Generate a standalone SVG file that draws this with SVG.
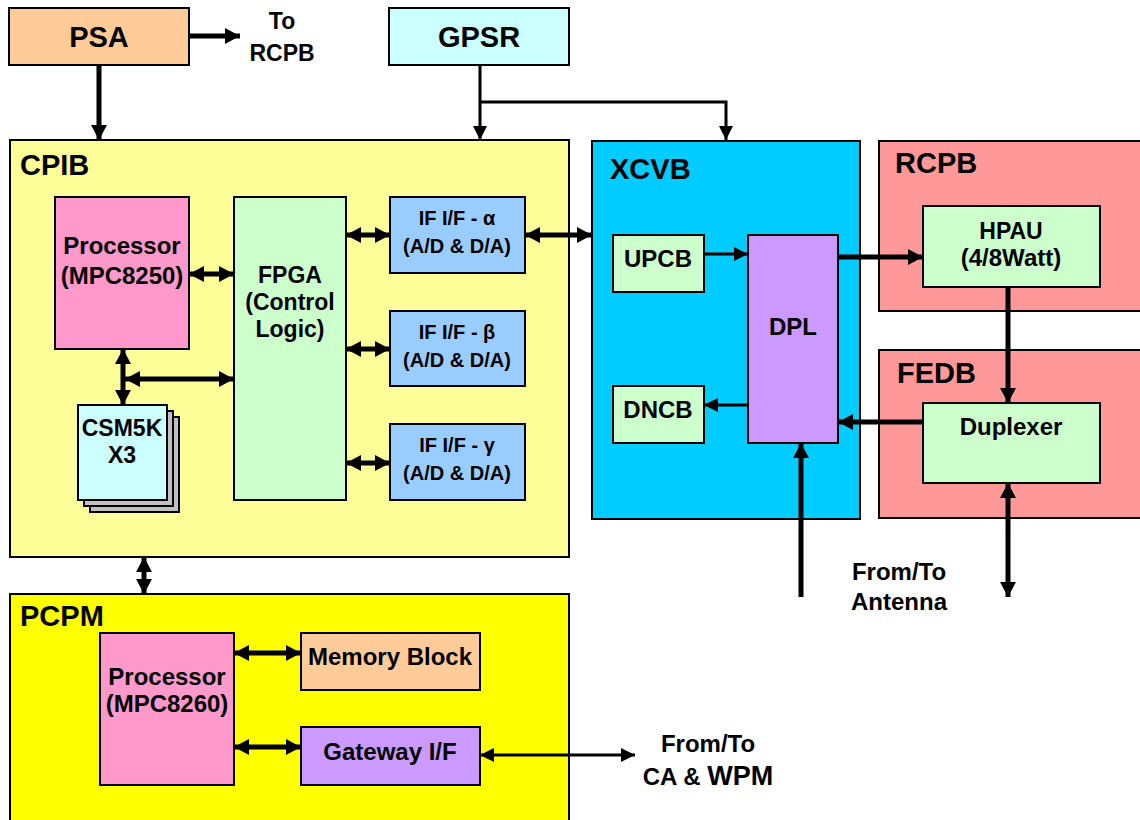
<svg xmlns="http://www.w3.org/2000/svg" width="1140" height="820" viewBox="0 0 1140 820">
<style>
  text { font-family: "Liberation Sans", Arial, sans-serif; font-weight: bold; fill: #000; }
  .t29 { font-size: 29px; }
  .t24 { font-size: 24px; }
  .t23 { font-size: 23px; }
  .t20 { font-size: 20px; }
  .c { text-anchor: middle; }
  .box { stroke: #000; stroke-width: 2; }
  .thick { stroke: #000; stroke-width: 5; fill: none; }
  .thin { stroke: #000; stroke-width: 3; fill: none; }
</style>
<defs>
  <marker id="a" markerUnits="userSpaceOnUse" markerWidth="15" markerHeight="16" refX="15" refY="8" orient="auto-start-reverse">
    <path d="M0,0 L15,8 L0,16 z" fill="#000"/>
  </marker>
  <marker id="t" markerUnits="userSpaceOnUse" markerWidth="14" markerHeight="14" refX="14" refY="7" orient="auto-start-reverse">
    <path d="M0,0 L14,7 L0,14 z" fill="#000"/>
  </marker>
</defs>
<rect width="1140" height="820" fill="#fff"/>

<!-- containers -->
<g id="cpib">
  <rect class="box" x="10" y="140" width="559" height="417" fill="#FFFF99"/>
  <text class="t29" x="20" y="175">CPIB</text>
</g>
<g id="xcvb">
  <rect class="box" x="592" y="141" width="268" height="378" fill="#00CCFF"/>
  <text class="t29" x="610" y="179">XCVB</text>
</g>
<g id="rcpb">
  <rect class="box" x="879" y="141" width="270" height="170" fill="#FF9999"/>
  <text class="t29" x="895" y="173">RCPB</text>
</g>
<g id="fedb">
  <rect class="box" x="879" y="350" width="270" height="168" fill="#FF9999"/>
  <text class="t29" x="897" y="383">FEDB</text>
</g>
<g id="pcpm">
  <rect class="box" x="10" y="594" width="559" height="240" fill="#FFFF00"/>
  <text class="t29" x="20" y="626">PCPM</text>
</g>

<!-- top nodes -->
<g id="psa">
  <rect class="box" x="9" y="8" width="180" height="57" fill="#FFCC99"/>
  <text class="t29 c" x="99" y="47">PSA</text>
</g>
<g id="gpsr">
  <rect class="box" x="389" y="8" width="180" height="57" fill="#CCFFFF"/>
  <text class="t29 c" x="479" y="47">GPSR</text>
</g>
<g id="to-rcpb">
  <text class="t23 c" x="282" y="29">To</text>
  <text class="t23 c" x="282" y="61">RCPB</text>
</g>

<!-- CPIB internals -->
<g id="proc8250">
  <rect class="box" x="55" y="197" width="134" height="152" fill="#FF99CC"/>
  <text class="t24 c" x="122" y="254">Processor</text>
  <text class="t24 c" x="122" y="284">(MPC8250)</text>
</g>
<g id="fpga">
  <rect class="box" x="234" y="197" width="112" height="303" fill="#CCFFCC"/>
  <text class="t23 c" x="290" y="283">FPGA</text>
  <text class="t23 c" x="290" y="310">(Control</text>
  <text class="t23 c" x="290" y="337">Logic)</text>
</g>
<g id="csm5k">
  <rect class="box" x="90" y="417" width="89" height="95" fill="#C0C0C0"/>
  <rect class="box" x="84" y="411" width="89" height="95" fill="#C0C0C0"/>
  <rect class="box" x="78" y="405" width="89" height="95" fill="#CCFFFF"/>
  <text class="t23 c" x="122" y="436">CSM5K</text>
  <text class="t23 c" x="122" y="463">X3</text>
</g>
<g id="if-alpha">
  <rect class="box" x="390" y="197" width="135" height="76" fill="#99CCFF"/>
  <text class="t20 c" x="457" y="225">IF I/F - α</text>
  <text class="t20 c" x="457" y="253">(A/D &amp; D/A)</text>
</g>
<g id="if-beta">
  <rect class="box" x="390" y="311" width="135" height="75" fill="#99CCFF"/>
  <text class="t20 c" x="457" y="339">IF I/F - β</text>
  <text class="t20 c" x="457" y="367">(A/D &amp; D/A)</text>
</g>
<g id="if-gamma">
  <rect class="box" x="390" y="424" width="135" height="76" fill="#99CCFF"/>
  <text class="t20 c" x="457" y="452">IF I/F - γ</text>
  <text class="t20 c" x="457" y="480">(A/D &amp; D/A)</text>
</g>

<!-- XCVB internals -->
<g id="upcb">
  <rect class="box" x="613" y="235" width="91" height="57" fill="#CCFFCC"/>
  <text class="t24 c" x="658" y="267">UPCB</text>
</g>
<g id="dncb">
  <rect class="box" x="613" y="386" width="91" height="57" fill="#CCFFCC"/>
  <text class="t24 c" x="658" y="418">DNCB</text>
</g>
<g id="dpl">
  <rect class="box" x="748" y="235" width="90" height="208" fill="#CC99FF"/>
  <text class="t24 c" x="793" y="335">DPL</text>
</g>

<!-- RCPB / FEDB internals -->
<g id="hpau">
  <rect class="box" x="923" y="206" width="177" height="81" fill="#CCFFCC"/>
  <text class="t23 c" x="1011" y="239">HPAU</text>
  <text class="t24 c" x="1011" y="266">(4/8Watt)</text>
</g>
<g id="duplexer">
  <rect class="box" x="923" y="403" width="177" height="80" fill="#CCFFCC"/>
  <text class="t24 c" x="1011" y="435">Duplexer</text>
</g>
<g id="antenna-label">
  <text class="t24 c" x="899" y="580">From/To</text>
  <text class="t24 c" x="899" y="610">Antenna</text>
</g>

<!-- PCPM internals -->
<g id="proc8260">
  <rect class="box" x="100" y="633" width="134" height="152" fill="#FF99CC"/>
  <text class="t24 c" x="167" y="685">Processor</text>
  <text class="t24 c" x="167" y="712">(MPC8260)</text>
</g>
<g id="memory">
  <rect class="box" x="301" y="633" width="179" height="57" fill="#FFCC99"/>
  <text class="t24 c" x="390" y="665">Memory Block</text>
</g>
<g id="gateway">
  <rect class="box" x="301" y="727" width="179" height="58" fill="#CC99FF"/>
  <text class="t24 c" x="390" y="760">Gateway I/F</text>
</g>
<g id="ca-wpm-label">
  <text class="t24 c" x="708" y="752">From/To</text>
  <text class="t24 c" x="708" y="785">CA &amp; <tspan style="font-size:27px">WPM</tspan></text>
</g>

<!-- connectors -->
<g id="connectors">
  <line class="thick" x1="189" y1="36" x2="240" y2="36" marker-end="url(#a)"/>
  <line class="thick" x1="99" y1="65" x2="99" y2="140" marker-end="url(#a)"/>
  <line class="thin" x1="480" y1="65" x2="480" y2="140" marker-end="url(#t)"/>
  <polyline class="thin" points="480,102 726,102 726,140" marker-end="url(#t)"/>

  <line class="thick" x1="189" y1="274" x2="234" y2="274" marker-start="url(#a)" marker-end="url(#a)"/>
  <line class="thick" x1="123" y1="349" x2="123" y2="405" marker-start="url(#a)" marker-end="url(#a)"/>
  <line class="thick" x1="125" y1="379" x2="234" y2="379" marker-start="url(#a)" marker-end="url(#a)"/>
  <line class="thick" x1="346" y1="235" x2="390" y2="235" marker-start="url(#a)" marker-end="url(#a)"/>
  <line class="thick" x1="346" y1="349" x2="390" y2="349" marker-start="url(#a)" marker-end="url(#a)"/>
  <line class="thick" x1="346" y1="463" x2="390" y2="463" marker-start="url(#a)" marker-end="url(#a)"/>
  <line class="thick" x1="525" y1="235" x2="592" y2="235" marker-start="url(#a)" marker-end="url(#a)"/>

  <line class="thin" x1="704" y1="254" x2="748" y2="254" marker-end="url(#t)"/>
  <line class="thin" x1="748" y1="405" x2="704" y2="405" marker-end="url(#t)"/>
  <line class="thick" x1="838" y1="257" x2="923" y2="257" marker-end="url(#a)"/>
  <line class="thick" x1="923" y1="422" x2="838" y2="422" marker-end="url(#a)"/>
  <line class="thick" x1="801" y1="597" x2="801" y2="443" marker-end="url(#a)"/>
  <line class="thick" x1="1008" y1="287" x2="1008" y2="403" marker-end="url(#a)"/>
  <line class="thick" x1="1008" y1="483" x2="1008" y2="597" marker-start="url(#a)" marker-end="url(#a)"/>

  <line class="thick" x1="144" y1="557" x2="144" y2="594" marker-start="url(#a)" marker-end="url(#a)"/>
  <line class="thick" x1="234" y1="653" x2="301" y2="653" marker-start="url(#a)" marker-end="url(#a)"/>
  <line class="thick" x1="234" y1="747" x2="301" y2="747" marker-start="url(#a)" marker-end="url(#a)"/>
  <line class="thin" x1="480" y1="755" x2="635" y2="755" marker-start="url(#t)" marker-end="url(#t)"/>
</g>
</svg>
